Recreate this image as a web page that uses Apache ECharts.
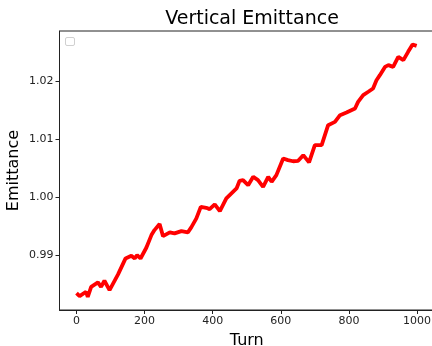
<!DOCTYPE html>
<html>
<head>
<meta charset="utf-8">
<script src="https://cdn.jsdelivr.net/npm/echarts@6/dist/echarts.min.js"></script>
<style>html,body{margin:0;padding:0;background:#fff;}#c{width:432px;height:346px;}</style>
</head>
<body>
<div id="c"></div>
<script>
const turns = [0, 9, 28, 33, 43, 63, 72, 82, 97, 122, 144, 161, 171, 178, 188, 205, 220, 229, 244, 254, 274, 288, 308, 327, 337, 352, 365, 381, 391, 406, 421, 440, 455, 470, 479, 489, 504, 519, 533, 548, 563, 573, 587, 607, 621, 636, 651, 666, 683, 700, 720, 739, 759, 774, 793, 818, 827, 842, 857, 871, 881, 891, 906, 916, 930, 945, 960, 974, 987, 999];
const emittance = [0.98342, 0.9829, 0.98365, 0.98278, 0.98451, 0.98527, 0.9845, 0.98555, 0.98394, 0.98665, 0.98941, 0.98987, 0.9894, 0.98998, 0.9894, 0.99125, 0.99344, 0.9943, 0.99534, 0.99326, 0.9939, 0.99373, 0.99413, 0.9939, 0.99477, 0.99632, 0.99832, 0.99815, 0.99793, 0.99874, 0.99758, 0.99978, 1.00064, 1.0015, 1.00282, 1.00294, 1.00207, 1.00351, 1.00294, 1.00178, 1.0035, 1.00265, 1.0038, 1.00668, 1.0064, 1.0062, 1.00627, 1.00725, 1.006, 1.00898, 1.00898, 1.01243, 1.013, 1.01416, 1.01462, 1.01532, 1.01646, 1.01762, 1.0182, 1.01877, 1.0202, 1.02107, 1.0225, 1.0228, 1.0225, 1.02423, 1.02366, 1.0251, 1.02637, 1.02613];
const xTicks = [0, 200, 400, 600, 800, 1000];
const yTicks = [0.99, 1.00, 1.01, 1.02];

const chart = echarts.init(document.getElementById('c'), null, {renderer: 'canvas'});
const font = 'DejaVu Sans';
chart.setOption({
  animation: false,
  backgroundColor: '#fff',
  title: {
    text: 'Vertical Emittance',
    left: 247, top: 5, textAlign: 'center',
    textStyle: {fontFamily: font, fontSize: 19, fontWeight: 'normal', color: '#000'}
  },
  grid: {
    left: 59.5, top: 31, width: 374.5, height: 279,
    outerBoundsMode: 'none', containLabel: false,
    show: true, borderColor: '#222', borderWidth: 1, backgroundColor: '#fff'
  },
  graphic: [
    {type: 'rect', left: 65, top: 37, shape: {width: 9, height: 8, r: 1.5},
     style: {fill: '#fff', stroke: '#d0d0d0', lineWidth: 1}, z: 100}
  ],
  xAxis: {
    type: 'value', min: -50, max: 1050,
    name: 'Turn', nameLocation: 'middle', nameGap: 23, nameMoveOverlap: false,
    nameTextStyle: {fontFamily: font, fontSize: 16, color: '#000'},
    axisLine: {show: true, onZero: false, lineStyle: {color: '#222', width: 1}},
    splitLine: {show: false},
    axisTick: {show: true, length: 4, lineStyle: {color: '#222'}, customValues: xTicks},
    axisLabel: {fontFamily: font, fontSize: 11, color: '#222', margin: 6, customValues: xTicks,
      formatter: v => String(v)}
  },
  yAxis: {
    type: 'value', min: 0.9805, max: 1.0287,
    name: 'Emittance', nameLocation: 'middle', nameGap: 38, nameMoveOverlap: false,
    nameTextStyle: {fontFamily: font, fontSize: 16, color: '#000'},
    axisLine: {show: true, onZero: false, lineStyle: {color: '#222', width: 1}},
    splitLine: {show: false},
    axisTick: {show: true, length: 4, lineStyle: {color: '#222'}, customValues: yTicks},
    axisLabel: {fontFamily: font, fontSize: 11, color: '#222', margin: 6, customValues: yTicks,
      formatter: v => v.toFixed(2)}
  },
  series: [{
    type: 'line',
    data: turns.map((t, i) => [t, emittance[i]]),
    showSymbol: false,
    lineStyle: {color: '#ff0000', width: 3.8},
    itemStyle: {color: '#ff0000'}
  }]
});
</script>
</body>
</html>
